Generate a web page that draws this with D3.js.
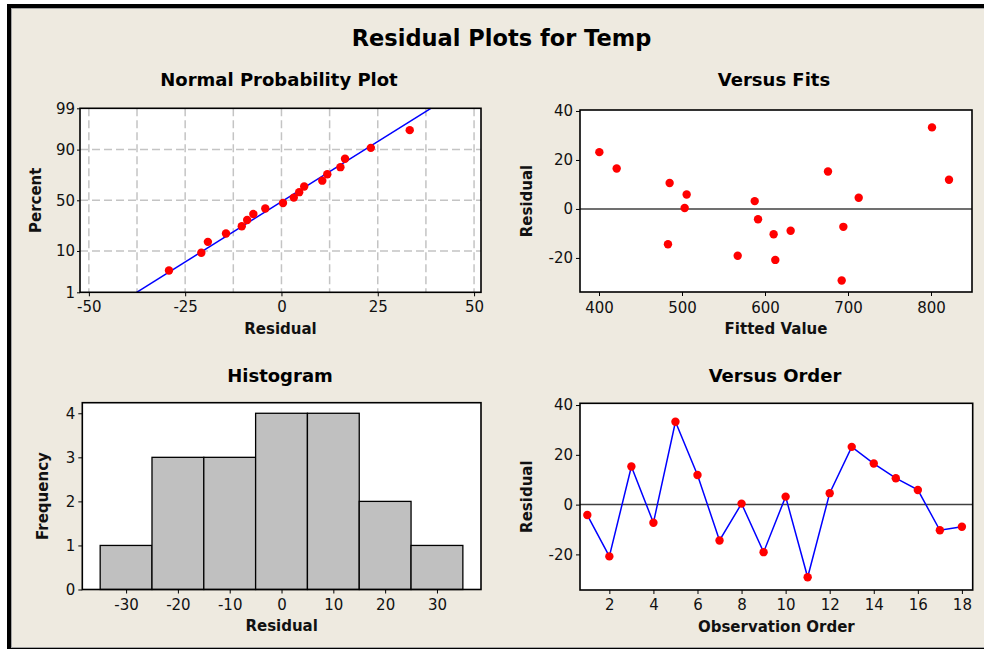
<!DOCTYPE html>
<html><head><meta charset="utf-8">
<script src="https://cdn.jsdelivr.net/npm/d3@7"></script>
<style>
html,body{margin:0;padding:0;background:#fff;}
svg{display:block;font-family:"DejaVu Sans",Verdana,sans-serif;}
</style></head><body>
<svg id="chart" width="984" height="649"></svg>
<script>
// ---------------- data ----------------
const observationOrder = [1,2,3,4,5,6,7,8,9,10,11,12,13,14,15,16,17,18];
const residuals = [-4.2,-20.8,15.3,-7.3,33.3,11.9,-14.4,0.4,-19.1,3.2,-29.2,4.6,23.2,16.5,10.6,5.9,-10.3,-8.9];
const fittedValues = [591.6,612.4,675.9,694.4,801.2,821.7,483.1,503.2,567.1,587.6,692.4,712.9,400.4,421.3,485.1,505.6,610.4,630.9];
const histBinMids = [-30,-20,-10,0,10,20,30];
const histCounts = [1,3,3,4,4,2,1];
const nppPercentTicks = [1,10,50,90,99];
const nppResidualTicks = [-50,-25,0,25,50];
const nppGridResidual = [-50,-37.5,-25,-12.5,0,12.5,25,37.5,50];
const fitsTicks = [400,500,600,700,800];
const residTicks = [-20,0,20,40];
const orderTicks = [2,4,6,8,10,12,14,16,18];
const histXTicks = [-30,-20,-10,0,10,20,30];
const histYTicks = [0,1,2,3,4];

// ---------------- helpers ----------------
function probit(p){
  const a=[-3.969683028665376e+01,2.209460984245205e+02,-2.759285104469687e+02,1.383577518672690e+02,-3.066479806614716e+01,2.506628277459239e+00];
  const b=[-5.447609879822406e+01,1.615858368580409e+02,-1.556989798598866e+02,6.680131188771972e+01,-1.328068155288572e+01];
  const c=[-7.784894002430293e-03,-3.223964580411365e-01,-2.400758277161838e+00,-2.549732539343734e+00,4.374664141464968e+00,2.938163982698783e+00];
  const d=[7.784695709041462e-03,3.224671290700398e-01,2.445134137142996e+00,3.754408661907416e+00];
  const pl=0.02425, ph=1-pl; let q,r;
  if(p<pl){q=Math.sqrt(-2*Math.log(p));return (((((c[0]*q+c[1])*q+c[2])*q+c[3])*q+c[4])*q+c[5])/((((d[0]*q+d[1])*q+d[2])*q+d[3])*q+1);}
  if(p<=ph){q=p-0.5;r=q*q;return (((((a[0]*r+a[1])*r+a[2])*r+a[3])*r+a[4])*r+a[5])*q/(((((b[0]*r+b[1])*r+b[2])*r+b[3])*r+b[4])*r+1);}
  q=Math.sqrt(-2*Math.log(1-p));return -(((((c[0]*q+c[1])*q+c[2])*q+c[3])*q+c[4])*q+c[5])/((((d[0]*q+d[1])*q+d[2])*q+d[3])*q+1);
}
const fmt = d => String(d); // plain hyphen-minus like the reference

const W=984,H=649;
const svg=d3.select('#chart');
const BG='#EEEAE0';

// frame / background
svg.append('rect').attr('width',W).attr('height',H).attr('fill','#fff');
svg.append('rect').attr('x',7).attr('y',4).attr('width',W-7).attr('height',H-4).attr('fill','#000');
svg.append('rect').attr('x',11).attr('y',8).attr('width',W-11).attr('height',640).attr('fill','#a4a4a4');
svg.append('rect').attr('x',12).attr('y',9).attr('width',W-12).attr('height',638).attr('fill',BG);

// main title
svg.append('text').attr('x',501.5).attr('y',45.5).attr('text-anchor','middle')
  .attr('font-size',22.5).attr('font-weight','bold').attr('fill','#000').text('Residual Plots for Temp');

function styleAxis(g){
  g.select('.domain').remove();
  g.selectAll('.tick line').attr('stroke','#000').attr('stroke-width',1);
  g.selectAll('.tick text').attr('fill','#111').attr('font-size',15)
    .attr('font-family','"DejaVu Sans",Verdana,sans-serif');
}

function makePanel(o){
  const g=svg.append('g');
  g.append('rect').attr('x',o.x0).attr('y',o.y0).attr('width',o.x1-o.x0).attr('height',o.y1-o.y0).attr('fill','#fff');
  g.append('text').attr('x',o.tx).attr('y',o.ty).attr('text-anchor','middle')
    .attr('font-size',18).attr('font-weight','bold').attr('fill','#000').text(o.title);
  g.append('text').attr('x',(o.x0+o.x1)/2).attr('y',o.xly).attr('text-anchor','middle')
    .attr('font-size',15).attr('font-weight','bold').attr('fill','#111').text(o.xLabel);
  g.append('text').attr('transform',`translate(${o.ylx},${(o.y0+o.y1)/2}) rotate(-90)`)
    .attr('text-anchor','middle').attr('font-size',15).attr('font-weight','bold').attr('fill','#111').text(o.yLabel);
  return g;
}
function frame(g,o){
  g.append('rect').attr('x',o.x0).attr('y',o.y0).attr('width',o.x1-o.x0).attr('height',o.y1-o.y0)
    .attr('fill','none').attr('stroke','#000').attr('stroke-width',1.6);
}

// ---------------- Normal probability plot ----------------
{
  const o={x0:80,x1:481,y0:108.3,y1:292.3,title:'Normal Probability Plot',tx:279,ty:86,
    xLabel:'Residual',xly:334,yLabel:'Percent',ylx:41};
  const g=makePanel(o);
  const x=d3.scaleLinear().domain([-52.3,51.8]).range([o.x0,o.x1]);
  const zMin=probit(0.01), zMax=probit(0.99);
  const y=d3.scaleLinear().domain([zMin,zMax]).range([o.y1,o.y0]);
  g.append('g').selectAll('line').data(nppGridResidual).join('line')
    .attr('x1',d=>x(d)).attr('x2',d=>x(d)).attr('y1',o.y0).attr('y2',o.y1)
    .attr('stroke','#c4c4c4').attr('stroke-width',1.5).attr('stroke-dasharray','8,4');
  g.append('g').selectAll('line').data(nppPercentTicks.filter(p=>p>1&&p<99)).join('line')
    .attr('y1',d=>y(probit(d/100))).attr('y2',d=>y(probit(d/100))).attr('x1',o.x0).attr('x2',o.x1)
    .attr('stroke','#c4c4c4').attr('stroke-width',1.5).attr('stroke-dasharray','8,4');
  const n=residuals.length;
  const mean=d3.mean(residuals), sd=d3.deviation(residuals);
  g.append('line').attr('x1',x(mean+zMin*sd)).attr('y1',y(zMin)).attr('x2',x(mean+zMax*sd)).attr('y2',y(zMax))
    .attr('stroke','#0000ff').attr('stroke-width',1.5);
  const sorted=residuals.slice().sort(d3.ascending);
  g.append('g').selectAll('circle').data(sorted).join('circle')
    .attr('cx',d=>x(d)).attr('cy',(d,i)=>y(probit((i+1-0.3)/(n+0.4)))).attr('r',4.2).attr('fill','#ff0000');
  frame(g,o);
  styleAxis(g.append('g').attr('transform',`translate(0,${o.y1})`)
    .call(d3.axisBottom(x).tickValues(nppResidualTicks).tickSize(4).tickPadding(5).tickFormat(fmt)));
  styleAxis(g.append('g').attr('transform',`translate(${o.x0},0)`)
    .call(d3.axisLeft(y).tickValues(nppPercentTicks.map(p=>probit(p/100))).tickSize(3).tickPadding(2)
      .tickFormat((d,i)=>nppPercentTicks[i])));
}

// ---------------- Versus fits ----------------
{
  const o={x0:580,x1:972,y0:110,y1:292,title:'Versus Fits',tx:774,ty:86,
    xLabel:'Fitted Value',xly:334,yLabel:'Residual',ylx:532};
  const g=makePanel(o);
  const x=d3.scaleLinear().domain([377.1,849.4]).range([o.x0,o.x1]);
  const y=d3.scaleLinear().domain([-33.9,40.4]).range([o.y1,o.y0]);
  g.append('line').attr('x1',o.x0).attr('x2',o.x1).attr('y1',y(0)).attr('y2',y(0))
    .attr('stroke','#404040').attr('stroke-width',1.5);
  g.append('g').selectAll('circle').data(residuals).join('circle')
    .attr('cx',(d,i)=>x(fittedValues[i])).attr('cy',d=>y(d)).attr('r',4.2).attr('fill','#ff0000');
  frame(g,o);
  styleAxis(g.append('g').attr('transform',`translate(0,${o.y1})`)
    .call(d3.axisBottom(x).tickValues(fitsTicks).tickSize(4).tickPadding(6).tickFormat(fmt)));
  styleAxis(g.append('g').attr('transform',`translate(${o.x0},0)`)
    .call(d3.axisLeft(y).tickValues(residTicks).tickSize(4).tickPadding(3).tickFormat(fmt)));
}

// ---------------- Histogram ----------------
{
  const o={x0:82.3,x1:481,y0:402.7,y1:589.5,title:'Histogram',tx:280,ty:382,
    xLabel:'Residual',xly:631,yLabel:'Frequency',ylx:48};
  const g=makePanel(o);
  const x=d3.scaleLinear().domain([-38.45,38.5]).range([o.x0,o.x1]);
  const y=d3.scaleLinear().domain([0,4.24]).range([o.y1,o.y0]);
  const bw=histBinMids[1]-histBinMids[0];
  g.append('g').selectAll('rect').data(histCounts).join('rect')
    .attr('x',(d,i)=>x(histBinMids[i]-bw/2)).attr('width',(d,i)=>x(histBinMids[i]+bw/2)-x(histBinMids[i]-bw/2))
    .attr('y',d=>y(d)).attr('height',d=>y(0)-y(d))
    .attr('fill','#c0c0c0').attr('stroke','#000').attr('stroke-width',1.3);
  frame(g,o);
  styleAxis(g.append('g').attr('transform',`translate(0,${o.y1})`)
    .call(d3.axisBottom(x).tickValues(histXTicks).tickSize(4).tickPadding(6).tickFormat(fmt)));
  styleAxis(g.append('g').attr('transform',`translate(${o.x0},0)`)
    .call(d3.axisLeft(y).tickValues(histYTicks).tickSize(4).tickPadding(3).tickFormat(fmt)));
}

// ---------------- Versus order ----------------
{
  const o={x0:580,x1:972.7,y0:403.3,y1:590,title:'Versus Order',tx:775,ty:382,
    xLabel:'Observation Order',xly:632,yLabel:'Residual',ylx:532};
  const g=makePanel(o);
  const x=d3.scaleLinear().domain([0.668,18.49]).range([o.x0,o.x1]);
  const y=d3.scaleLinear().domain([-34.3,40.7]).range([o.y1,o.y0]);
  g.append('line').attr('x1',o.x0).attr('x2',o.x1).attr('y1',y(0)).attr('y2',y(0))
    .attr('stroke','#404040').attr('stroke-width',1.5);
  g.append('path').datum(residuals)
    .attr('d',d3.line().x((d,i)=>x(observationOrder[i])).y(d=>y(d)))
    .attr('fill','none').attr('stroke','#0000ff').attr('stroke-width',1.5);
  g.append('g').selectAll('circle').data(residuals).join('circle')
    .attr('cx',(d,i)=>x(observationOrder[i])).attr('cy',d=>y(d)).attr('r',4.2).attr('fill','#ff0000');
  frame(g,o);
  styleAxis(g.append('g').attr('transform',`translate(0,${o.y1})`)
    .call(d3.axisBottom(x).tickValues(orderTicks).tickSize(4).tickPadding(5).tickFormat(fmt)));
  styleAxis(g.append('g').attr('transform',`translate(${o.x0},0)`)
    .call(d3.axisLeft(y).tickValues(residTicks).tickSize(4).tickPadding(3).tickFormat(fmt)));
}
</script>
</body></html>
